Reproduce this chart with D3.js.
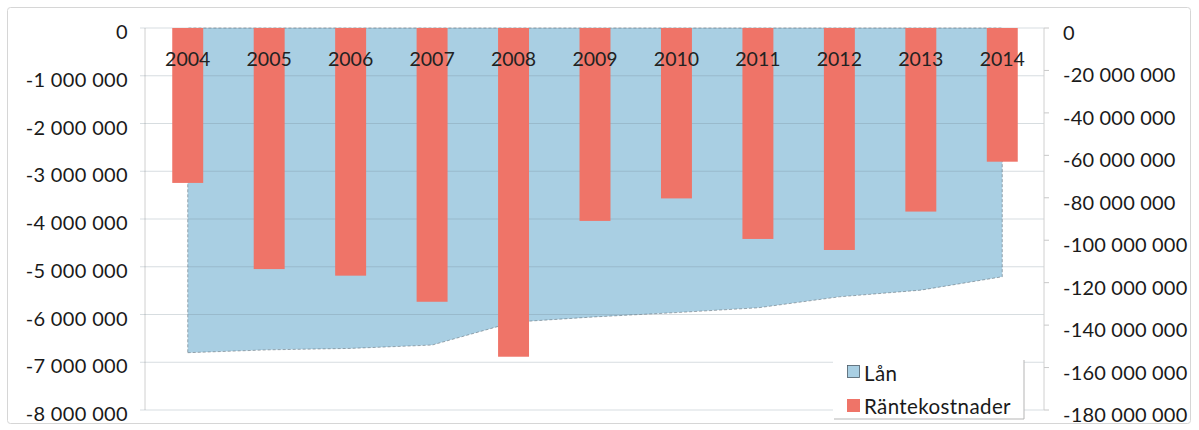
<!DOCTYPE html>
<html><head><meta charset="utf-8">
<script src="https://cdn.jsdelivr.net/npm/d3@7"></script>
<style>html,body{margin:0;padding:0;background:#fff;}svg{display:block;}</style>
</head><body>
<svg id="c" width="1199" height="430"></svg>
<script>
const categories = ["2004","2005","2006","2007","2008","2009","2010","2011","2012","2013","2014"];
const lan = [-6800000,-6740000,-6710000,-6640000,-6160000,-6050000,-5960000,-5860000,-5630000,-5490000,-5210000];
const rantekostnader = [-73000000,-113600000,-116700000,-129000000,-154900000,-90900000,-80300000,-99400000,-104600000,-86500000,-63000000];
const leftTicks = [0,-1000000,-2000000,-3000000,-4000000,-5000000,-6000000,-7000000,-8000000];
const rightTicks = [0,-20000000,-40000000,-60000000,-80000000,-100000000,-120000000,-140000000,-160000000,-180000000];
const seriesNames = ["Lån","Räntekostnader"];

const FONT = "Lato, 'Open Sans', sans-serif";
const svg = d3.select("#c");
const X0 = 147, X1 = 1043, Y0 = 28, Y1 = 410;
const axL = 145, axR = 1044;
const blue = "#a9cfe3", red = "#ef7468";

const fmt = v => v === 0 ? "0" : "-" + d3.format(",")(Math.abs(v)).replace(/,/g, " ");

const x = d3.scaleBand().domain(categories).range([X0, X1]).paddingInner(0.62).paddingOuter(0.31);
const yL = d3.scaleLinear().domain([-8000000, 0]).range([Y1, Y0]);
const yR = d3.scaleLinear().domain([-180000000, 0]).range([Y1, Y0]);
const cx = c => x(c) + x.bandwidth() / 2;

// outer border
svg.append("rect").attr("x", 7.5).attr("y", 7.5).attr("width", 1183).attr("height", 416)
  .attr("rx", 3).attr("fill", "#fff").attr("stroke", "#d6d6d6");

// left axis line
svg.append("line").attr("x1", axL).attr("x2", axL).attr("y1", Y0).attr("y2", Y1)
  .attr("stroke", "#d0d0d0");

// area (Lån) on left axis
const area = d3.area().x((d, i) => cx(categories[i])).y0(() => yL(0)).y1(d => yL(d)).curve(d3.curveLinear);
svg.append("path").datum(lan).attr("d", area).attr("fill", blue)
  .attr("stroke", "#3d4a52").attr("stroke-width", 0.8).attr("stroke-dasharray", "3,2").attr("stroke-opacity", 0.55);

// gridlines (left axis)
svg.append("g").selectAll("line").data(leftTicks).join("line")
  .attr("x1", axL - 5).attr("x2", axR).attr("y1", d => yL(d)).attr("y2", d => yL(d))
  .attr("stroke", "#6f8590").attr("stroke-opacity", 0.28).attr("stroke-width", 1);

// bars (Räntekostnader) on right axis
svg.append("g").selectAll("rect").data(rantekostnader).join("rect")
  .attr("x", (d, i) => x(categories[i])).attr("width", x.bandwidth())
  .attr("y", yR(0)).attr("height", d => yR(d) - yR(0)).attr("fill", red);

// right axis
svg.append("line").attr("x1", axR).attr("x2", axR).attr("y1", Y0).attr("y2", Y1).attr("stroke", "#d0d0d0");
svg.append("g").selectAll("line").data(rightTicks).join("line")
  .attr("x1", axR).attr("x2", axR + 5).attr("y1", d => yR(d)).attr("y2", d => yR(d)).attr("stroke", "#c8c8c8");

// left labels
svg.append("g").selectAll("text").data(leftTicks).join("text")
  .attr("x", 128).attr("y", d => yL(d) + 11).attr("text-anchor", "end")
  .attr("font-family", FONT).attr("font-size", 20).attr("letter-spacing", 0.35)
  .attr("fill", "#1a1a1a").text(fmt);

// right labels
svg.append("g").selectAll("text").data(rightTicks).join("text")
  .attr("x", 1063).attr("y", d => yR(d) + 12).attr("text-anchor", "start")
  .attr("font-family", FONT).attr("font-size", 20).attr("letter-spacing", 0.2)
  .attr("fill", "#1a1a1a").text(fmt);

// category labels
svg.append("g").selectAll("text").data(categories).join("text")
  .attr("x", d => cx(d)).attr("y", 66).attr("text-anchor", "middle")
  .attr("font-family", FONT).attr("font-size", 19.5).attr("fill", "#222").text(d => d);

// legend
const lg = svg.append("g");
lg.append("rect").attr("x", 833).attr("y", 357).attr("width", 191).attr("height", 62).attr("fill", "#fff");
lg.append("line").attr("x1", 1024).attr("x2", 1024).attr("y1", 360).attr("y2", 419).attr("stroke", "#b5b5b5");
lg.append("line").attr("x1", 834).attr("x2", 1024).attr("y1", 419).attr("y2", 419).attr("stroke", "#b5b5b5");
lg.append("rect").attr("x", 847.5).attr("y", 365.5).attr("width", 12).attr("height", 12)
  .attr("fill", blue).attr("stroke", "#4a5a66").attr("stroke-width", 0.8);
lg.append("rect").attr("x", 847).attr("y", 399).attr("width", 13).attr("height", 13).attr("fill", red);
lg.selectAll("text").data(seriesNames).join("text")
  .attr("x", 864).attr("y", (d, i) => i === 0 ? 381 : 414)
  .attr("font-family", FONT).attr("font-size", 20.5).attr("letter-spacing", 0.4)
  .attr("fill", "#1a1a1a").text(d => d);
</script>
</body></html>
